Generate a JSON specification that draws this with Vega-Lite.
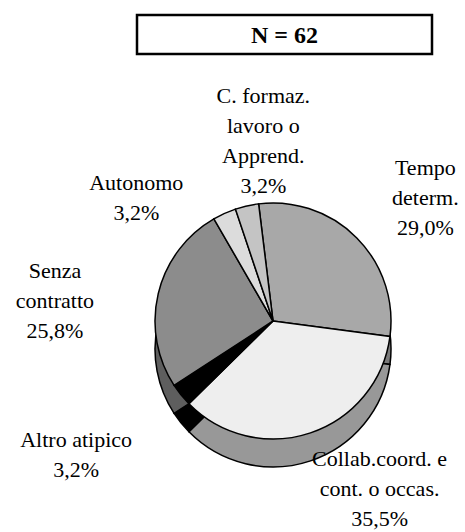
{
  "$schema": "https://vega.github.io/schema/vega-lite/v6.json",
  "padding": {"left": 0, "top": 13, "right": 0, "bottom": 0},
  "background": "white",
  "config": {"view": {"stroke": null}, "font": "Liberation Serif", "text": {"font": "Liberation Serif"}},
  "spacing": 0,
  "vconcat": [
    {
      "spacing": 0,
      "hconcat": [
        {"width": 135, "height": 39, "data": {"values": [{}]}, "mark": {"type": "rect", "opacity": 0}, "encoding": {}},
        {
          "width": 295, "height": 39,
          "view": {"stroke": "black", "strokeWidth": 2.5},
          "data": {"values": [{"t": "N = 62"}]},
          "mark": {"type": "text", "fontSize": 24, "fontWeight": "bold", "font": "Liberation Serif", "color": "black", "align": "center", "baseline": "middle", "dy": 1},
          "encoding": {"text": {"field": "t", "type": "nominal"}}
        }
      ]
    },
    {
      "width": 465, "height": 478,
      "data": {"values": [
        {"cat": "Tempo determ.", "label": "Tempo\ndeterm.\n29,0%", "pct": 29.0, "ord": 1},
        {"cat": "Collab.coord. e cont. o occas.", "label": "Collab.coord. e\ncont. o occas.\n35,5%", "pct": 35.5, "ord": 2},
        {"cat": "Altro atipico", "label": "Altro atipico\n3,2%", "pct": 3.2, "ord": 3},
        {"cat": "Senza contratto", "label": "Senza\ncontratto\n25,8%", "pct": 25.8, "ord": 4},
        {"cat": "Autonomo", "label": "Autonomo\n3,2%", "pct": 3.2, "ord": 5},
        {"cat": "C. formaz. lavoro o Apprend.", "label": "C. formaz.\nlavoro o\nApprend.\n3,2%", "pct": 3.2, "ord": 6}
      ]},
      "resolve": {"scale": {"color": "independent"}},
      "layer": [
        {"mark": {"type": "rect", "opacity": 0}, "encoding": {}},
        {
          "mark": {"type": "arc", "x": 273, "y": 293, "radius": 118, "stroke": "black", "strokeWidth": 1.5},
          "encoding": {
            "theta": {"field": "pct", "type": "quantitative", "stack": true, "scale": {"range": [-0.1222, 6.161]}},
            "order": {"field": "ord", "type": "quantitative"},
            "color": {"field": "cat", "type": "nominal", "legend": null,
              "scale": {"domain": ["Tempo determ.", "Collab.coord. e cont. o occas.", "Altro atipico", "Senza contratto", "Autonomo", "C. formaz. lavoro o Apprend."],
                        "range": ["#7a7a7a", "#989898", "#000000", "#5e5e5e", "#b0b0b0", "#a0a0a0"]}}
          }
        },
        {
          "mark": {"type": "arc", "x": 273, "y": 265, "radius": 118, "stroke": "black", "strokeWidth": 1.5},
          "encoding": {
            "theta": {"field": "pct", "type": "quantitative", "stack": true},
            "order": {"field": "ord", "type": "quantitative"},
            "color": {"field": "cat", "type": "nominal", "legend": null,
              "scale": {"domain": ["Tempo determ.", "Collab.coord. e cont. o occas.", "Altro atipico", "Senza contratto", "Autonomo", "C. formaz. lavoro o Apprend."],
                        "range": ["#a8a8a8", "#eeeeee", "#000000", "#8c8c8c", "#dcdcdc", "#c4c4c4"]}}
          }
        },
        {
          "mark": {"type": "text", "x": 273, "y": 265, "radius": 192, "dx": 16, "dy": -18, "fontSize": 22, "lineHeight": 30, "lineBreak": "\n", "align": "center", "baseline": "middle", "color": "black"},
          "encoding": {
            "theta": {"field": "pct", "type": "quantitative", "stack": true},
            "order": {"field": "ord", "type": "quantitative"},
            "text": {"field": "label", "type": "nominal", "condition": {"test": "datum.cat !== 'Tempo determ.'", "value": ""}}
          }
        },
        {
          "mark": {"type": "text", "x": 273, "y": 265, "radius": 200, "dx": 43, "dy": -52, "fontSize": 22, "lineHeight": 30, "lineBreak": "\n", "align": "center", "baseline": "middle", "color": "black"},
          "encoding": {
            "theta": {"field": "pct", "type": "quantitative", "stack": true},
            "order": {"field": "ord", "type": "quantitative"},
            "text": {"field": "label", "type": "nominal", "condition": {"test": "datum.cat !== 'Collab.coord. e cont. o occas.'", "value": ""}}
          }
        },
        {
          "mark": {"type": "text", "x": 273, "y": 265, "radius": 150, "dx": -80, "dy": 25, "fontSize": 22, "lineHeight": 30, "lineBreak": "\n", "align": "center", "baseline": "middle", "color": "black"},
          "encoding": {
            "theta": {"field": "pct", "type": "quantitative", "stack": true},
            "order": {"field": "ord", "type": "quantitative"},
            "text": {"field": "label", "type": "nominal", "condition": {"test": "datum.cat !== 'Altro atipico'", "value": ""}}
          }
        },
        {
          "mark": {"type": "text", "x": 273, "y": 265, "radius": 216, "dx": -8, "dy": 0, "fontSize": 22, "lineHeight": 30, "lineBreak": "\n", "align": "center", "baseline": "middle", "color": "black"},
          "encoding": {
            "theta": {"field": "pct", "type": "quantitative", "stack": true},
            "order": {"field": "ord", "type": "quantitative"},
            "text": {"field": "label", "type": "nominal", "condition": {"test": "datum.cat !== 'Senza contratto'", "value": ""}}
          }
        },
        {
          "mark": {"type": "text", "x": 273, "y": 265, "radius": 167, "dx": -68, "dy": 14, "fontSize": 22, "lineHeight": 30, "lineBreak": "\n", "align": "center", "baseline": "middle", "color": "black"},
          "encoding": {
            "theta": {"field": "pct", "type": "quantitative", "stack": true},
            "order": {"field": "ord", "type": "quantitative"},
            "text": {"field": "label", "type": "nominal", "condition": {"test": "datum.cat !== 'Autonomo'", "value": ""}}
          }
        },
        {
          "mark": {"type": "text", "x": 273, "y": 265, "radius": 175, "dx": 29, "dy": -54, "fontSize": 22, "lineHeight": 30, "lineBreak": "\n", "align": "center", "baseline": "middle", "color": "black"},
          "encoding": {
            "theta": {"field": "pct", "type": "quantitative", "stack": true},
            "order": {"field": "ord", "type": "quantitative"},
            "text": {"field": "label", "type": "nominal", "condition": {"test": "datum.cat !== 'C. formaz. lavoro o Apprend.'", "value": ""}}
          }
        }
      ]
    }
  ]
}
